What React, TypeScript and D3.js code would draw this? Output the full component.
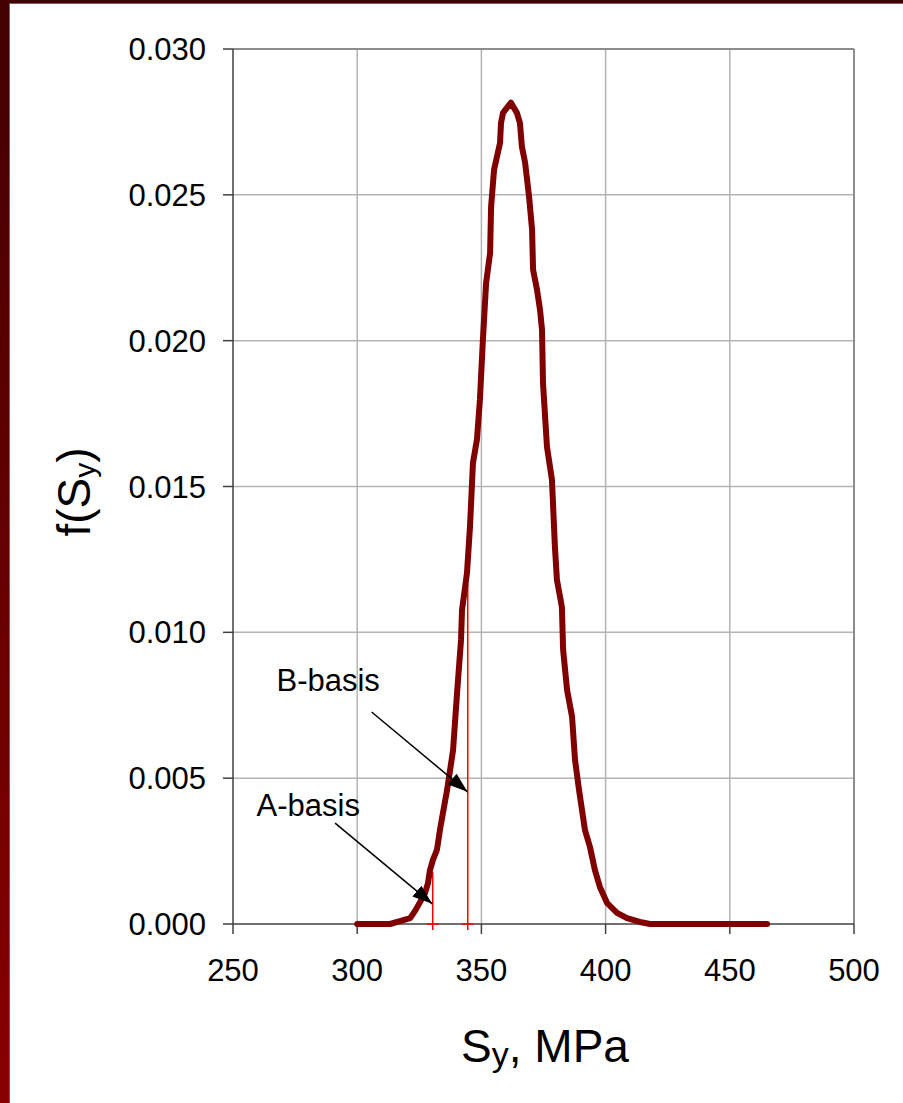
import React from "react";
import * as d3 from "d3";

// Yield strength values (MPa) and probability density of the fitted distribution
const strength = [
  300, 313.2, 317.2, 321.3, 323.3, 325.3, 327.3, 328.5, 329.3, 330.5, 332.1, 333.3,
  334.5, 336.2, 337.4, 338.6, 340.2, 341.8, 342.2, 344.2, 345.4, 346.6, 348.2, 349.4,
  350.6, 351.9, 353.5, 353.9, 355.1, 357.5, 357.9, 358.7, 361.9, 364.3, 365.5, 366.3,
  367.6, 369.2, 370.4, 370.8, 372.4, 373.6, 374.4, 374.8, 376.4, 378.4, 379.6, 380.4,
  382.4, 382.9, 384.5, 386.5, 387.7, 389.3, 391.7, 393.7, 395.7, 397.7, 400.6, 404.6,
  408.6, 413.8, 417.9, 465,
];
const density = [
  0, 0, 0.0001, 0.0002, 0.00045, 0.00075, 0.00106, 0.0014, 0.00185, 0.0022, 0.00254, 0.00322,
  0.0038, 0.0046, 0.00528, 0.00597, 0.00792, 0.00974, 0.01077, 0.01204, 0.01361, 0.01581, 0.0166, 0.01797,
  0.02003, 0.02198, 0.02301, 0.02459, 0.02586, 0.02678, 0.02747, 0.02781, 0.02816, 0.02781, 0.02747, 0.02665,
  0.0261, 0.02493, 0.0238, 0.02243, 0.02174, 0.02106, 0.02037, 0.01855, 0.01636, 0.01523, 0.01293, 0.0118,
  0.01087, 0.0094, 0.00802, 0.0071, 0.00562, 0.0046, 0.00322, 0.00264, 0.00185, 0.00127, 0.00072, 0.00038,
  0.0002, 0.00007, 0, 0,
];

// Design allowables: A-basis and B-basis
const basisNames = ["A-basis", "B-basis"];
const basisStrength = [330.4, 344.5];
const basisDensity = [0.00178, 0.01166];
// Arrow tail / tip and label anchor in data units
const arrowTail = [
  [291.1, 0.00346],
  [305.8, 0.00727],
];
const arrowTip = [
  [330.2, 0.00069],
  [344.4, 0.00453],
];
const labelAt = [
  [259.5, 0.00372],
  [267.5, 0.0080],
];

const xTicks = [250, 300, 350, 400, 450, 500];
const yTicks = [0, 0.005, 0.01, 0.015, 0.02, 0.025, 0.03];

const W = 903;
const H = 1103;
const FONT = "'Liberation Sans', Arial, sans-serif";

export default function App() {
  const x = d3.scaleLinear().domain([250, 500]).range([233, 854]);
  const y = d3.scaleLinear().domain([0, 0.03]).range([924, 49]);

  const pts: [number, number][] = strength.map((s, i) => [s, density[i]]);
  const line = d3
    .line<[number, number]>()
    .x((d) => x(d[0]))
    .y((d) => y(d[1]));

  const [x0, x1] = x.range();
  const [y0, y1] = y.range();

  return (
    <svg
      width={W}
      height={H}
      viewBox={`0 0 ${W} ${H}`}
      style={{ position: "absolute", left: 0, top: 0, background: "#fff" }}
    >
      <defs>
        <linearGradient id="edge" x1="0" y1="0" x2="0" y2="1">
          <stop offset="0" stopColor="#420000" />
          <stop offset="1" stopColor="#880000" />
        </linearGradient>
        <marker
          id="head"
          viewBox="0 0 20 14"
          refX="20"
          refY="7"
          markerWidth="20"
          markerHeight="14"
          markerUnits="userSpaceOnUse"
          orient="auto"
        >
          <path d="M0,0 L20,7 L0,14 Z" fill="#000" />
        </marker>
      </defs>

      {/* slide frame */}
      <rect x={0} y={0} width={W} height={H} fill="#fff" />
      <rect x={0} y={0} width={9} height={H} fill="url(#edge)" />
      <rect x={0} y={0} width={W} height={3} fill="#420000" />
      <line x1={9.5} y1={3} x2={9.5} y2={H} stroke="#666" strokeWidth={1} />
      <line x1={9} y1={3.5} x2={W} y2={3.5} stroke="#666" strokeWidth={1} />

      {/* grid */}
      {xTicks.slice(1, -1).map((t) => (
        <line key={"gx" + t} x1={x(t)} x2={x(t)} y1={y1} y2={y0} stroke="#b3b3b3" strokeWidth={1.5} />
      ))}
      {yTicks.slice(1, -1).map((t) => (
        <line key={"gy" + t} x1={x0} x2={x1} y1={y(t)} y2={y(t)} stroke="#b3b3b3" strokeWidth={1.5} />
      ))}

      {/* plot frame */}
      <line x1={x0} x2={x1} y1={y1} y2={y1} stroke="#8c8c8c" strokeWidth={2} />
      <line x1={x1} x2={x1} y1={y1} y2={y0} stroke="#8c8c8c" strokeWidth={2} />
      <line x1={x0} x2={x0} y1={y1} y2={y0} stroke="#404040" strokeWidth={1.5} />
      <line x1={x0} x2={x1} y1={y0} y2={y0} stroke="#404040" strokeWidth={1.5} />

      {/* ticks and labels */}
      {yTicks.map((t) => (
        <g key={"ty" + t}>
          <line x1={x0 - 10} x2={x0} y1={y(t)} y2={y(t)} stroke="#404040" strokeWidth={1.5} />
          <text
            x={206}
            y={y(t)}
            dy="0.36em"
            textAnchor="end"
            fontFamily={FONT}
            fontSize={31}
            fill="#000"
          >
            {d3.format(".3f")(t)}
          </text>
        </g>
      ))}
      {xTicks.map((t) => (
        <g key={"tx" + t}>
          <line x1={x(t)} x2={x(t)} y1={y0} y2={y0 + 10} stroke="#404040" strokeWidth={1.5} />
          <text x={x(t)} y={981} textAnchor="middle" fontFamily={FONT} fontSize={31} fill="#000">
            {t}
          </text>
        </g>
      ))}

      {/* basis lines */}
      {basisStrength.map((s, i) => (
        <g key={"b" + i} stroke="#ff0000" strokeWidth={1.5}>
          <line x1={x(s)} x2={x(s)} y1={y(0) + 6} y2={y(basisDensity[i])} />
          <line x1={x(s) - 6} x2={x(s) + 6} y1={y(0)} y2={y(0)} />
        </g>
      ))}

      {/* density curve */}
      <path
        d={line(pts) || ""}
        fill="none"
        stroke="#800000"
        strokeWidth={6}
        strokeLinejoin="round"
        strokeLinecap="round"
      />

      {/* annotations */}
      {basisNames.map((name, i) => (
        <g key={name}>
          <line
            x1={x(arrowTail[i][0])}
            y1={y(arrowTail[i][1])}
            x2={x(arrowTip[i][0])}
            y2={y(arrowTip[i][1])}
            stroke="#000"
            strokeWidth={1.5}
            markerEnd="url(#head)"
          />
          <text x={x(labelAt[i][0])} y={y(labelAt[i][1])} fontFamily={FONT} fontSize={31} fill="#000">
            {name}
          </text>
        </g>
      ))}

      {/* axis titles */}
      <text x={545} y={1062} textAnchor="middle" fontFamily={FONT} fontSize={46} fill="#000">
        S<tspan fontSize={34} dy={4}>y</tspan>
        <tspan dy={-4}>, MPa</tspan>
      </text>
      <text
        transform="translate(90,492) rotate(-90)"
        textAnchor="middle"
        fontFamily={FONT}
        fontSize={46}
        fill="#000"
      >
        f(S<tspan fontSize={30} dy={5}>y</tspan>
        <tspan dy={-5}>)</tspan>
      </text>
    </svg>
  );
}
